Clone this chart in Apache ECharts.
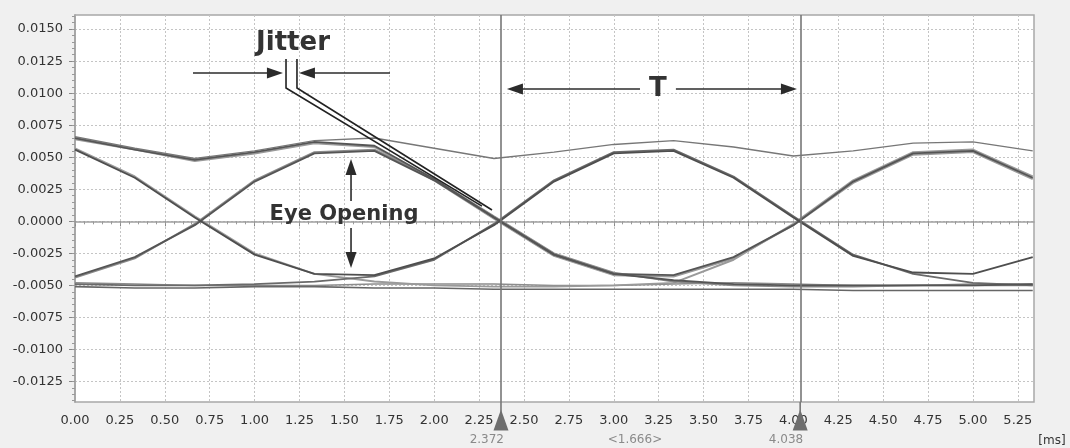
<!DOCTYPE html>
<html>
<head>
<meta charset="utf-8">
<script src="https://cdn.jsdelivr.net/npm/echarts@6/dist/echarts.min.js"></script>
<style>
html,body{margin:0;padding:0;background:#f0f0f0;}
#c{width:1070px;height:448px;}
</style>
</head>
<body>
<div id="c"></div>
<script>
// ---- data (time in ms, amplitude) ----
const timeMs = [0, 0.333, 0.667, 1.0, 1.333, 1.667, 2.0, 2.333, 2.667, 3.0, 3.333, 3.667, 4.0, 4.333, 4.667, 5.0, 5.333];

const highA = [0.0066, 0.0057, 0.0049, 0.0055, 0.0063, 0.0065, 0.0057, 0.0049, 0.0054, 0.0060, 0.0063, 0.0058, 0.0051, 0.0055, 0.0061, 0.0062, 0.0055];
const highB = [0.0065, 0.0056, 0.0048, 0.0054, 0.0062, 0.0059, 0.0033, 0.0003, -0.0026, -0.0041, -0.0046, -0.0049, -0.0050, -0.0050, -0.0050, -0.0050, -0.0049];
const highC = [0.0064, 0.0056, 0.0047, 0.0053, 0.0061, 0.0058, 0.0032, 0.0002, -0.0027, -0.0042, -0.0043, -0.0029, -0.0003, 0.0030, 0.0052, 0.0054, 0.0033];
const riseA = [-0.0043, -0.0028, -0.0003, 0.0031, 0.0053, 0.0055, 0.0032, 0.0003, -0.0026, -0.0041, -0.0042, -0.0028, -0.0003, 0.0031, 0.0053, 0.0055, 0.0034];
const riseB = [-0.0044, -0.0029, -0.0002, 0.0032, 0.0054, 0.0056, 0.0033, 0.0004, -0.0025, -0.0040, -0.0047, -0.0050, -0.0051, -0.0051, -0.0050, -0.0050, -0.0050];
const fallA = [0.0056, 0.0034, 0.0003, -0.0026, -0.0041, -0.0042, -0.0029, -0.0003, 0.0031, 0.0053, 0.0055, 0.0034, 0.0003, -0.0027, -0.0040, -0.0041, -0.0028];
const fallB = [0.0057, 0.0035, 0.0004, -0.0025, -0.0041, -0.0047, -0.0050, -0.0051, -0.0051, -0.0050, -0.0048, -0.0030, -0.0002, 0.0032, 0.0054, 0.0056, 0.0035];
const fallC = [-0.0049, -0.0050, -0.0050, -0.0049, -0.0047, -0.0043, -0.0030, -0.0002, 0.0032, 0.0054, 0.0056, 0.0035, 0.0004, -0.0026, -0.0041, -0.0048, -0.0050];
const lowA  = [-0.0048, -0.0049, -0.0050, -0.0050, -0.0050, -0.0049, -0.0049, -0.0049, -0.0050, -0.0050, -0.0049, -0.0048, -0.0049, -0.0050, -0.0050, -0.0049, -0.0049];
const lowB  = [-0.0051, -0.0052, -0.0052, -0.0051, -0.0051, -0.0052, -0.0052, -0.0053, -0.0053, -0.0053, -0.0053, -0.0053, -0.0053, -0.0054, -0.0054, -0.0054, -0.0054];

const cursorTimes = [2.372, 4.038];

// tick labels
const xMajorTicks = [0, 0.25, 0.5, 0.75, 1.0, 1.25, 1.5, 1.75, 2.0, 2.25, 2.5, 2.75, 3.0, 3.25, 3.5, 3.75, 4.0, 4.25, 4.5, 4.75, 5.0, 5.25];
const yMajorTicks = [-0.0125, -0.01, -0.0075, -0.005, -0.0025, 0, 0.0025, 0.005, 0.0075, 0.01, 0.0125, 0.015];

const X_MIN = 0, X_MAX = 5.34;
const Y_MIN = -0.0141, Y_MAX = 0.0161;

// minor tick positions
const xMinorTicks = [];
for (let i = 0; i <= 106; i++) xMinorTicks.push(+(i * 0.05).toFixed(2));
const yMinorTicks = [];
for (let i = -28; i <= 32; i++) yMinorTicks.push(+(i * 0.0005).toFixed(4));

const FONT = '"DejaVu Sans", Verdana, sans-serif';

const traces = [
  {name: 'lowA', data: lowA, color: '#8c8c8c', width: 1.5},
  {name: 'lowB', data: lowB, color: '#666666', width: 1.6},
  {name: 'highC', data: highC, color: '#9a9a9a', width: 2.0},
  {name: 'fallB', data: fallB, color: '#9a9a9a', width: 1.9},
  {name: 'riseB', data: riseB, color: '#8a8a8a', width: 1.8},
  {name: 'fallC', data: fallC, color: '#6a6a6a', width: 1.8},
  {name: 'highB', data: highB, color: '#555555', width: 1.9},
  {name: 'riseA', data: riseA, color: '#555555', width: 1.9},
  {name: 'fallA', data: fallA, color: '#4e4e4e', width: 1.9},
  {name: 'highA', data: highA, color: '#777777', width: 1.4}
];

const series = traces.map(tr => ({
  name: tr.name,
  type: 'line',
  xAxisIndex: 0,
  yAxisIndex: 0,
  data: timeMs.map((t, i) => [t, tr.data[i]]),
  symbol: 'none',
  smooth: false,
  silent: true,
  animation: false,
  lineStyle: {color: tr.color, width: tr.width}
}));

// cursor lines and triangles
series.push({
  name: 'cursors',
  type: 'line',
  xAxisIndex: 0,
  yAxisIndex: 0,
  data: [],
  silent: true,
  animation: false,
  markLine: {
    silent: true,
    symbol: 'none',
    animation: false,
    label: {show: false},
    lineStyle: {color: '#777777', width: 1.6, type: 'solid'},
    data: cursorTimes.map(t => ({xAxis: t}))
  },
  markPoint: {
    silent: true,
    animation: false,
    symbol: 'triangle',
    symbolSize: [15, 21],
    symbolOffset: [0, 18],
    label: {show: false},
    itemStyle: {color: '#6e6e6e'},
    data: cursorTimes.map(t => ({coord: [t, Y_MIN]}))
  }
});

const chart = echarts.init(document.getElementById('c'), null, {renderer: 'canvas'});

chart.setOption({
  backgroundColor: '#f0f0f0',
  animation: false,
  grid: {
    left: 75, right: 36, top: 15, bottom: 46,
    show: true, backgroundColor: '#ffffff', borderColor: '#a8a8a8', borderWidth: 1.5
  },
  xAxis: [
    {
      type: 'value', min: X_MIN, max: X_MAX, position: 'bottom',
      axisLine: {show: true, lineStyle: {color: '#a0a0a0', width: 1.5}},
      axisTick: {show: true, length: 5, customValues: xMajorTicks, lineStyle: {color: '#888'}},
      axisLabel: {customValues: xMajorTicks, formatter: v => v.toFixed(2), margin: 12,
                  fontSize: 13, fontFamily: FONT, color: '#333'},
      splitLine: {show: true, lineStyle: {type: [2, 2], color: '#c4c4c4', width: 1}}
    },
    {
      type: 'value', min: X_MIN, max: X_MAX, position: 'bottom',
      axisLine: {show: false},
      axisTick: {show: true, length: 3, customValues: xMinorTicks, lineStyle: {color: '#999'}},
      axisLabel: {show: false},
      splitLine: {show: false}
    }
  ],
  yAxis: [
    {
      type: 'value', min: Y_MIN, max: Y_MAX, position: 'left',
      axisLine: {show: true, lineStyle: {color: '#a0a0a0', width: 1.5}},
      axisTick: {show: true, length: 6, customValues: yMajorTicks, lineStyle: {color: '#888'}},
      axisLabel: {customValues: yMajorTicks, formatter: v => v.toFixed(4), margin: 12,
                  fontSize: 13, fontFamily: FONT, color: '#333'},
      splitLine: {show: true, lineStyle: {type: [2, 2], color: '#c4c4c4', width: 1}}
    },
    {
      type: 'value', min: Y_MIN, max: Y_MAX, position: 'left',
      axisLine: {show: false},
      axisTick: {show: true, length: 3, customValues: yMinorTicks, lineStyle: {color: '#999'}},
      axisLabel: {show: false},
      splitLine: {show: false}
    }
  ],
  series: series
});

// ---- annotations (data coordinates) ----
const jitterText = [1.214, 0.01391];
const jitterLeaderL = [[1.175, 0.01267], [1.175, 0.01040], [2.266, 0.00119]];
const jitterLeaderR = [[1.236, 0.01267], [1.236, 0.01040], [2.322, 0.00088]];
const jitterArrowL = [[0.657, 0.01157], [1.158, 0.01157]];
const jitterArrowR = [[1.754, 0.01157], [1.247, 0.01157]];
const periodText = [3.246, 0.01032];
const periodArrowL = [[3.146, 0.01032], [2.405, 0.01032]];
const periodArrowR = [[3.346, 0.01032], [4.020, 0.01032]];
const eyeText = [1.498, 0.00049];
const eyeArrowUp = [[1.537, 0.00158], [1.537, 0.00486]];
const eyeArrowDown = [[1.537, -0.00052], [1.537, -0.00364]];
const periodLabelX = 3.118;

function px(p) { return chart.convertToPixel({xAxisIndex: 0, yAxisIndex: 0}, p); }

const INK = '#2b2b2b';
function arrow(seg) {
  const a = px(seg[0]), b = px(seg[1]);
  const dx = b[0] - a[0], dy = b[1] - a[1];
  const L = Math.hypot(dx, dy), ux = dx / L, uy = dy / L;
  const hl = 16, hw = 5.5;
  const base = [b[0] - ux * hl, b[1] - uy * hl];
  return [
    {type: 'line', silent: true, z: 100, shape: {x1: a[0], y1: a[1], x2: base[0] + ux * 2, y2: base[1] + uy * 2},
     style: {stroke: INK, lineWidth: 1.6}},
    {type: 'polygon', silent: true, z: 100,
     shape: {points: [b, [base[0] - uy * hw, base[1] + ux * hw], [base[0] + uy * hw, base[1] - ux * hw]]},
     style: {fill: INK}}
  ];
}
function polyline(pts) {
  return {type: 'polyline', silent: true, z: 100, shape: {points: pts.map(px)},
          style: {stroke: '#222', lineWidth: 1.6, fill: null}};
}
function label(p, text, font, color, align) {
  const q = px(p);
  return {type: 'text', silent: true, z: 100, x: q[0], y: q[1],
          style: {text: text, font: font, fill: color, align: align || 'center', verticalAlign: 'middle',
                  textAlign: align || 'center', textVerticalAlign: 'middle'}};
}

const els = [];
els.push(polyline(jitterLeaderL), polyline(jitterLeaderR));
els.push(...arrow(jitterArrowL), ...arrow(jitterArrowR));
els.push(...arrow(periodArrowL), ...arrow(periodArrowR));
els.push(...arrow(eyeArrowUp), ...arrow(eyeArrowDown));
els.push(label(jitterText, 'Jitter', 'bold 26px ' + FONT, '#333'));
els.push(label(periodText, 'T', 'bold 26px ' + FONT, '#333'));
els.push(label(eyeText, 'Eye Opening', 'bold 21px ' + FONT, '#333'));

// cursor value labels under the axis
const bottomY = px([0, Y_MIN])[1];
cursorTimes.forEach(t => {
  const q = px([t, Y_MIN]);
  els.push({type: 'line', silent: true, z: 90, shape: {x1: q[0], y1: q[1], x2: q[0], y2: q[1] + 10},
            style: {stroke: '#777', lineWidth: 1.6}});
  els.push({type: 'text', silent: true, z: 100, x: q[0] + 3, y: bottomY + 38,
            style: {text: t.toFixed(3), font: '12px ' + FONT, fill: '#8a8a8a', align: 'right', verticalAlign: 'middle',
                    textAlign: 'right', textVerticalAlign: 'middle'}});
});
const pl = px([periodLabelX, Y_MIN]);
els.push({type: 'text', silent: true, z: 100, x: pl[0], y: bottomY + 38,
          style: {text: '<' + (cursorTimes[1] - cursorTimes[0]).toFixed(3) + '>', font: '12px ' + FONT, fill: '#8a8a8a',
                  align: 'center', verticalAlign: 'middle', textAlign: 'center', textVerticalAlign: 'middle'}});
els.push({type: 'text', silent: true, z: 100, x: 1052, y: bottomY + 39,
          style: {text: '[ms]', font: '12px ' + FONT, fill: '#333', align: 'center', verticalAlign: 'middle',
                  textAlign: 'center', textVerticalAlign: 'middle'}});

chart.setOption({graphic: {elements: els}});
</script>
</body>
</html>
